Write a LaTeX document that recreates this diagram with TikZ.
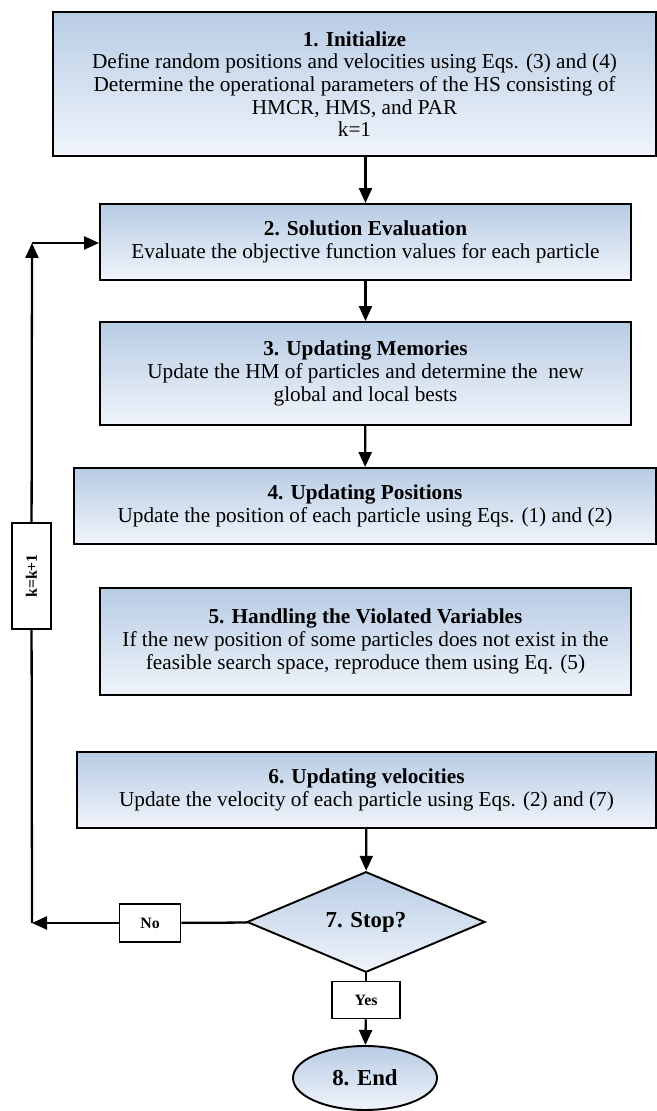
\documentclass[tikz,border=0pt]{standalone}
\usepackage{fontspec}
\setmainfont{Liberation Serif}
\usetikzlibrary{arrows.meta,shapes.geometric}
\definecolor{HsTop}{RGB}{184,204,228}
\definecolor{HsBottom}{RGB}{240,244,251}
\tikzset{
  hs/box/.style={
    draw=black,
    line width=1.1pt,
    top color=HsTop,
    bottom color=HsBottom,
    align=center,
    inner sep=2pt,
    font=\fontsize{12.1}{12.9}\selectfont
  },
  hs/decision/.style={
    diamond,
    draw=black,
    line width=1.1pt,
    top color=HsTop,
    bottom color=HsBottom,
    inner sep=0pt,
    minimum width=4.76cm,
    minimum height=1.9cm,
    font=\fontsize{13}{14}\selectfont\bfseries
  },
  hs/terminal/.style={
    ellipse,
    draw=black,
    line width=1.1pt,
    top color=HsTop,
    bottom color=HsBottom,
    inner sep=0pt,
    minimum width=2.88cm,
    minimum height=1.28cm,
    font=\fontsize{13}{14}\selectfont\bfseries
  },
  hs/tag/.style={
    draw=black,
    line width=1.1pt,
    fill=white,
    inner sep=0pt,
    font=\fontsize{9}{10}\selectfont\bfseries
  },
  hs/line/.style={line width=1.3pt, draw=black},
  hs/arrow/.style={-{Triangle[length=3mm,width=2.6mm]}, line width=1.3pt, draw=black}
}

\begin{document}
\begin{tikzpicture}[x=1cm,y=1cm]
  \useasboundingbox (0,0) rectangle (13.14,22.22);
  % main steps
  \node[hs/box,minimum width=12.06cm,minimum height=2.88cm] (init) at (7.09,20.54)
    {\textbf{1. Initialize}\\Define random positions and velocities using Eqs. (3) and (4)\\Determine the operational parameters of the HS consisting of\\HMCR, HMS, and PAR\\k=1};
  \node[hs/box,minimum width=10.62cm,minimum height=1.52cm] (eval) at (7.31,17.38)
    {\textbf{2. Solution Evaluation}\\Evaluate the objective function values for each particle};
  \node[hs/box,minimum width=10.62cm,minimum height=2.06cm] (memo) at (7.31,14.75)
    {\textbf{3. Updating Memories}\\Update the HM of particles and determine the\ \ new\\global and local bests};
  \node[hs/box,minimum width=11.64cm,minimum height=1.52cm] (pos) at (7.30,12.10)
    {\textbf{4. Updating Positions}\\Update the position of each particle using Eqs. (1) and (2)};
  \node[hs/box,minimum width=10.62cm,minimum height=2.14cm] (viol) at (7.31,9.39)
    {\textbf{5. Handling the Violated Variables}\\If the new position of some particles does not exist in the\\feasible search space, reproduce them using Eq. (5)};
  \node[hs/box,minimum width=11.58cm,minimum height=1.52cm] (vel) at (7.33,6.42)
    {\textbf{6. Updating velocities}\\Update the velocity of each particle using Eqs. (2) and (7)};
  \node[hs/decision] (stop) at (7.32,3.78) {7. Stop?};
  \node[hs/terminal] (end) at (7.30,0.66) {8. End};
  % labels on the connectors
  \node[hs/tag,minimum width=1.22cm,minimum height=0.76cm] (no) at (3.00,3.76) {No};
  \node[hs/tag,minimum width=1.36cm,minimum height=0.74cm] (yes) at (7.32,2.22) {Yes};
  \node[hs/tag,minimum width=2.12cm,minimum height=0.78cm,rotate=90] (kbox) at (0.63,10.70) {k=k+1};
  \coordinate (loopb) at (0.64,3.76);
  \coordinate (loopt) at (0.64,17.36);
  % connectors
  \draw[hs/arrow] (init.south -| eval) -- (eval);
  \draw[hs/arrow] (eval) -- (memo);
  \draw[hs/arrow] (memo) -- (pos);
  \draw[hs/arrow] (vel) -- (stop);
  \draw[hs/line] (stop) -- (yes);
  \draw[hs/arrow] (yes) -- (end);
  \draw[hs/line] (stop) -- (no);
  \draw[hs/arrow] (no) -- (loopb);
  \draw[hs/line] (loopb) -- (kbox);
  \draw[hs/arrow] (kbox) -- (loopt);
  \draw[hs/arrow] (loopt) -- (eval.west |- loopt);
\end{tikzpicture}
\end{document}
